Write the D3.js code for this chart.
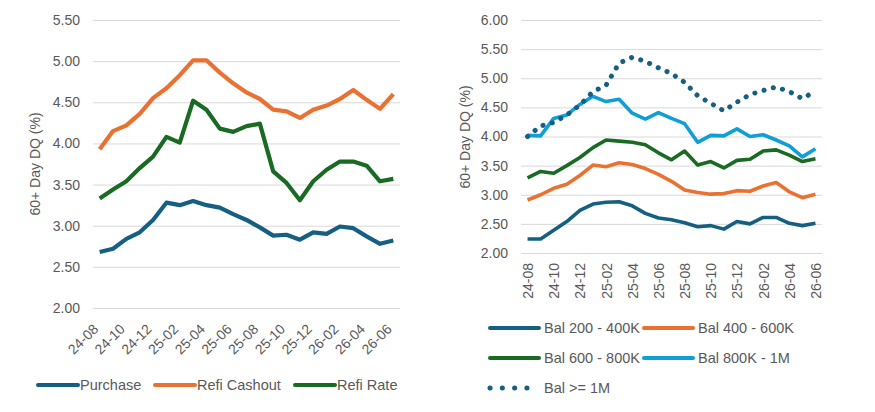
<!DOCTYPE html>
<html>
<head>
<meta charset="utf-8">
<script src="https://cdn.jsdelivr.net/npm/d3@7"></script>
<style>
  body { margin: 0; background: #fff; }
  svg { display: block; font-family: "Liberation Sans", Arial, sans-serif; }
  .grid line { stroke: #d9d9d9; stroke-width: 1; }
  .tick-label { fill: #595959; font-size: 14px; }
  .legend-label { fill: #595959; font-size: 14.5px; }
</style>
</head>
<body>
<svg id="chart" width="875" height="412"></svg>
<script>
// months shared by both charts
const months = [ '24-08', '24-09', '24-10', '24-11', '24-12', '25-01', '25-02', '25-03', '25-04', '25-05', '25-06', '25-07',
  '25-08', '25-09', '25-10', '25-11', '25-12', '26-01', '26-02', '26-03', '26-04', '26-05', '26-06' ];

// left chart: by loan purpose
const purchase    = [ 2.68, 2.72, 2.84, 2.92, 3.07, 3.28, 3.25, 3.30, 3.25, 3.22, 3.14, 3.07, 2.98, 2.88, 2.89, 2.83, 2.92, 2.90, 2.99, 2.97, 2.87, 2.78, 2.82 ];
const refiCashout = [ 3.93, 4.15, 4.22, 4.36, 4.55, 4.67, 4.83, 5.01, 5.01, 4.86, 4.73, 4.62, 4.54, 4.41, 4.39, 4.31, 4.41, 4.46, 4.54, 4.65, 4.53, 4.42, 4.60 ];
const refiRate    = [ 3.33, 3.44, 3.54, 3.70, 3.84, 4.08, 4.01, 4.52, 4.41, 4.18, 4.14, 4.21, 4.24, 3.66, 3.52, 3.31, 3.54, 3.68, 3.78, 3.78, 3.73, 3.54, 3.57 ];
const leftTicks = [ 2.00, 2.50, 3.00, 3.50, 4.00, 4.50, 5.00, 5.50 ];

// right chart: by loan balance
const bal200 = [ 2.24, 2.24, 2.39, 2.54, 2.73, 2.84, 2.87, 2.88, 2.81, 2.68, 2.60, 2.57, 2.52, 2.45, 2.47, 2.41, 2.54, 2.50, 2.61, 2.61, 2.51, 2.47, 2.51 ];
const bal400 = [ 2.91, 3.00, 3.11, 3.18, 3.33, 3.51, 3.48, 3.55, 3.52, 3.45, 3.35, 3.23, 3.08, 3.04, 3.01, 3.02, 3.07, 3.06, 3.15, 3.21, 3.05, 2.95, 3.01 ];
const bal600 = [ 3.29, 3.40, 3.37, 3.50, 3.64, 3.81, 3.94, 3.92, 3.90, 3.86, 3.72, 3.60, 3.75, 3.51, 3.57, 3.46, 3.59, 3.61, 3.75, 3.77, 3.68, 3.57, 3.62 ];
const bal800 = [ 4.02, 4.01, 4.31, 4.37, 4.55, 4.69, 4.60, 4.64, 4.40, 4.30, 4.41, 4.31, 4.22, 3.90, 4.02, 4.01, 4.13, 4.00, 4.03, 3.94, 3.84, 3.65, 3.79 ];
const bal1m  = [ 4.00, 4.18, 4.24, 4.37, 4.54, 4.77, 4.88, 5.26, 5.36, 5.29, 5.18, 5.08, 4.93, 4.70, 4.57, 4.44, 4.59, 4.72, 4.79, 4.85, 4.77, 4.65, 4.78 ];
const rightTicks = [ 2.00, 2.50, 3.00, 3.50, 4.00, 4.50, 5.00, 5.50, 6.00 ];

const blue = '#156082', orange = '#E97132', green = '#196B24', sky = '#0F9ED5';

const svg = d3.select('#chart');

function drawChart(opts) {
  const g = svg.append('g');
  const x = d3.scalePoint().domain(months).range([ opts.left, opts.right ]).padding(0.5);
  const y = d3.scaleLinear().domain(d3.extent(opts.ticks)).range([ opts.bottom, opts.top ]);

  // gridlines + y labels
  const yAxis = d3.axisLeft(y).tickValues(opts.ticks).tickFormat(d3.format('.2f')).tickSize(-(opts.right - opts.left)).tickPadding(13);
  const ya = g.append('g').attr('class', 'grid').attr('transform', `translate(${opts.left},0)`).call(yAxis);
  ya.select('.domain').remove();
  ya.selectAll('text').attr('class', 'tick-label').attr('fill', null);

  // x labels every 2 months
  const xa = g.append('g').attr('transform', `translate(0,${opts.bottom})`)
    .call(d3.axisBottom(x).tickValues(months.filter((d, i) => i % 2 === 0)).tickSize(0));
  xa.select('.domain').remove();
  xa.selectAll('text').attr('class', 'tick-label').attr('fill', null)
    .attr('text-anchor', 'end').attr('dy', null)
    .attr('transform', opts.rot === -90 ? 'translate(5,10) rotate(-90)' : 'translate(-1,22) rotate(-45)')
    .attr('y', 0).attr('x', 0);

  // axis title
  g.append('text').attr('class', 'tick-label').attr('font-size', '13.5px')
    .attr('transform', `translate(${opts.titleX},${opts.titleY}) rotate(-90)`)
    .attr('text-anchor', 'middle').text('60+ Day DQ (%)');

  const line = d3.line().x((d, i) => x(months[i])).y(d => y(d));
  opts.series.forEach(s => {
    g.append('path').datum(s.values).attr('d', line).attr('fill', 'none')
      .attr('stroke', s.color).attr('stroke-width', s.dotted ? 5 : opts.lw)
      .attr('stroke-linejoin', 'round').attr('stroke-linecap', s.dotted ? 'round' : 'butt')
      .attr('stroke-dasharray', s.dotted ? '0.1 9.5' : null);
  });
}

drawChart({
  left: 93, right: 400, top: 20, bottom: 308, ticks: leftTicks, rot: -45, lw: 4.2,
  titleX: 40, titleY: 164,
  series: [
    { values: purchase, color: blue },
    { values: refiCashout, color: orange },
    { values: refiRate, color: green }
  ]
});

drawChart({
  left: 521, right: 822, top: 20, bottom: 253, ticks: rightTicks, rot: -90, lw: 3.6,
  titleX: 470, titleY: 137,
  series: [
    { values: bal200, color: blue },
    { values: bal400, color: orange },
    { values: bal600, color: green },
    { values: bal800, color: sky },
    { values: bal1m, color: blue, dotted: true }
  ]
});

// legends
const leftLegend = [ { name: 'Purchase', color: blue, x: 38 }, { name: 'Refi Cashout', color: orange, x: 155 }, { name: 'Refi Rate', color: green, x: 295 } ];
leftLegend.forEach(d => {
  svg.append('line').attr('x1', d.x).attr('x2', d.x + 40).attr('y1', 385).attr('y2', 385)
    .attr('stroke', d.color).attr('stroke-width', 4).attr('stroke-linecap', 'round');
  svg.append('text').attr('class', 'legend-label').attr('x', d.x + 42).attr('y', 390).text(d.name);
});

const rightLegend = [
  { name: 'Bal 200 - 400K', color: blue, x: 490, y: 328 },
  { name: 'Bal 400 - 600K', color: orange, x: 644, y: 328 },
  { name: 'Bal 600 - 800K', color: green, x: 490, y: 358 },
  { name: 'Bal 800K - 1M', color: sky, x: 644, y: 358 },
  { name: 'Bal >= 1M', color: blue, x: 490, y: 388, dotted: true }
];
rightLegend.forEach(d => {
  svg.append('line').attr('x1', d.x).attr('x2', d.x + 49).attr('y1', d.y).attr('y2', d.y)
    .attr('stroke', d.color).attr('stroke-width', d.dotted ? 5 : 4).attr('stroke-linecap', 'round')
    .attr('stroke-dasharray', d.dotted ? '0.1 12.2' : null);
  svg.append('text').attr('class', 'legend-label').attr('x', d.x + 54).attr('y', d.y + 5).text(d.name);
});
</script>
</body>
</html>
